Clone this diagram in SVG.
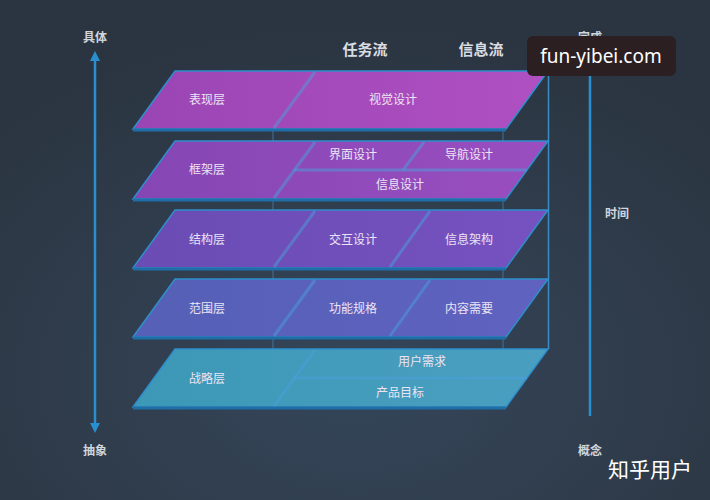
<svg xmlns="http://www.w3.org/2000/svg" width="710" height="500" viewBox="0 0 710 500">
<defs>
<radialGradient id="bg" cx="0.5" cy="0.75" r="0.7">
<stop offset="0" stop-color="#35465a"/>
<stop offset="1" stop-color="#2b3541"/>
</radialGradient>
<linearGradient id="g1" x1="0" y1="0" x2="1" y2="0">
<stop offset="0" stop-color="#9a45b4"/><stop offset="1" stop-color="#b050c2"/>
</linearGradient>
<linearGradient id="g2" x1="0" y1="0" x2="1" y2="0">
<stop offset="0" stop-color="#8546b4"/><stop offset="1" stop-color="#9a4ec0"/>
</linearGradient>
<linearGradient id="g3" x1="0" y1="0" x2="1" y2="0">
<stop offset="0" stop-color="#6a4cb4"/><stop offset="1" stop-color="#7652c0"/>
</linearGradient>
<linearGradient id="g4" x1="0" y1="0" x2="1" y2="0">
<stop offset="0" stop-color="#5560b6"/><stop offset="1" stop-color="#6062c0"/>
</linearGradient>
<linearGradient id="g5" x1="0" y1="0" x2="1" y2="0">
<stop offset="0" stop-color="#3c98b6"/><stop offset="1" stop-color="#4a9fc0"/>
</linearGradient>
<marker id="ah" viewBox="0 0 10 10" refX="5" refY="5" markerWidth="4" markerHeight="4" orient="auto-start-reverse">
<path d="M0,0 L10,5 L0,10 z" fill="#2a8fd0"/>
</marker>
</defs>
<style>
.layer{stroke:#2e8fcc;stroke-width:1.5;}
.base{fill:none;stroke:#1f6ea8;stroke-width:3;}
.div{stroke:#4aa0dc;stroke-width:3;opacity:0.5;fill:none;}
.t{font-family:"Noto Sans CJK SC","Noto Sans",sans-serif;font-size:12px;fill:#ece4f4;text-anchor:middle;}
.h{font-family:"Noto Sans CJK SC","Noto Sans",sans-serif;font-size:15px;font-weight:bold;fill:#d8dde4;text-anchor:middle;}
.ax{font-family:"Noto Sans CJK SC","Noto Sans",sans-serif;font-size:12px;font-weight:bold;fill:#d0d6de;text-anchor:middle;}
.pil{stroke:#4a7fa8;stroke-width:1;opacity:0.8;}
</style>
<rect width="710" height="500" fill="url(#bg)"/>

<g id="connectors">
<line class="pil" x1="273" y1="129" x2="273" y2="349"/>
<line class="pil" x1="503" y1="129" x2="503" y2="349"/>
<line x1="548.5" y1="71" x2="548.5" y2="349" stroke="#3a8cc4" stroke-width="1.5"/>
<line x1="95" y1="56" x2="95" y2="428" stroke="#2a8fd0" stroke-width="2.5" marker-start="url(#ah)" marker-end="url(#ah)"/>
<line x1="590" y1="62" x2="590" y2="416" stroke="#2a8fd0" stroke-width="2.5"/>
</g>

<g id="header">
<text class="h" x="365" y="55">任务流</text>
<text class="h" x="481" y="55">信息流</text>
<text class="ax" x="95" y="42">具体</text>
<text class="ax" x="95" y="455">抽象</text>
<text class="ax" x="590" y="42">完成</text>
<text class="ax" x="590" y="455">概念</text>
<text class="ax" x="617" y="218">时间</text>
</g>

<g id="layer-1">
<polygon class="layer" points="175,71 548,71 506,129 133,129" fill="url(#g1)"/>
<line class="base" x1="133" y1="130" x2="506" y2="130"/>
<line class="div" x1="315" y1="72" x2="274" y2="128"/>
<text class="t" x="207" y="104">表现层</text>
<text class="t" x="393" y="104">视觉设计</text>
</g>

<g id="layer-2">
<polygon class="layer" points="175,141 548,141 506,199 133,199" fill="url(#g2)"/>
<line class="base" x1="133" y1="200" x2="506" y2="200"/>
<line class="div" x1="315" y1="142" x2="274" y2="198"/>
<line class="div" x1="424" y1="142" x2="403" y2="170"/>
<line class="div" x1="294" y1="170" x2="527" y2="170"/>
<text class="t" x="353" y="159">界面设计</text>
<text class="t" x="469" y="159">导航设计</text>
<text class="t" x="207" y="174">框架层</text>
<text class="t" x="400" y="189">信息设计</text>
</g>

<g id="layer-3">
<polygon class="layer" points="175,210 548,210 506,268 133,268" fill="url(#g3)"/>
<line class="base" x1="133" y1="269" x2="506" y2="269"/>
<line class="div" x1="315" y1="211" x2="274" y2="267"/>
<line class="div" x1="430" y1="211" x2="390" y2="267"/>
<text class="t" x="207" y="244">结构层</text>
<text class="t" x="353" y="244">交互设计</text>
<text class="t" x="469" y="244">信息架构</text>
</g>

<g id="layer-4">
<polygon class="layer" points="175,279 548,279 506,337 133,337" fill="url(#g4)"/>
<line class="base" x1="133" y1="338" x2="506" y2="338"/>
<line class="div" x1="315" y1="280" x2="274" y2="336"/>
<line class="div" x1="430" y1="280" x2="390" y2="336"/>
<text class="t" x="207" y="313">范围层</text>
<text class="t" x="353" y="313">功能规格</text>
<text class="t" x="469" y="313">内容需要</text>
</g>

<g id="layer-5">
<polygon class="layer" points="175,349 548,349 506,407 133,407" fill="url(#g5)"/>
<line class="base" x1="133" y1="408" x2="506" y2="408"/>
<line class="div" x1="315" y1="350" x2="274" y2="406"/>
<line class="div" x1="294" y1="378" x2="527" y2="378"/>
<text class="t" x="422" y="366">用户需求</text>
<text class="t" x="207" y="383">战略层</text>
<text class="t" x="400" y="397">产品目标</text>
</g>

<g id="watermark">
<rect x="527" y="36" width="149" height="40" rx="6" fill="#2b1f22"/>
<text x="601" y="63" font-family="'Noto Sans','Open Sans',sans-serif" font-size="19" fill="#ffffff" text-anchor="middle">fun-yibei.com</text>
<text x="650" y="477" font-family="'Noto Sans CJK SC',sans-serif" font-size="21" fill="#ffffff" text-anchor="middle">知乎用户</text>
</g>
</svg>
